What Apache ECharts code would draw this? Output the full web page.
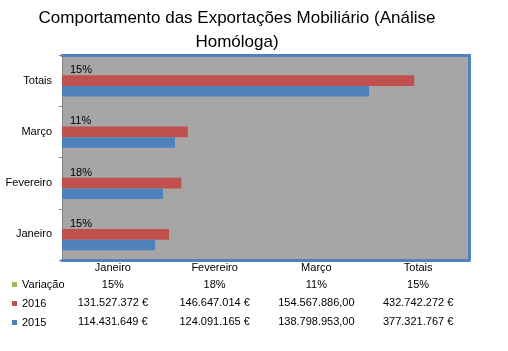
<!DOCTYPE html>
<html lang="pt">
<head>
<meta charset="UTF-8">
<title>Comportamento das Exportações Mobiliário</title>
<script src="https://cdn.jsdelivr.net/npm/echarts@6/dist/echarts.min.js"></script>
<style>
  html, body { margin: 0; padding: 0; background: #fff; }
  #main { width: 508px; height: 351px; }
</style>
</head>
<body>
<div id="main"></div>
<script>
// dados
var categorias = ['Janeiro', 'Fevereiro', 'Março', 'Totais'];
var valores2016 = [131527372, 146647014, 154567886, 432742272];
var valores2015 = [114431649, 124091165, 138798953, 377321767];
var variacao = [0.15, 0.18, 0.11, 0.15];
// formato de cada coluna na tabela de dados (Março vem sem o €)
var formatoColuna = ['eur', 'eur', 'dec', 'eur'];

var fonte = 'Liberation Sans';

function milhares(v) {
    return String(Math.round(v)).replace(/\B(?=(\d{3})+(?!\d))/g, '.');
}
function fmtValor(v, i) {
    if (formatoColuna[i] === 'dec') return milhares(v) + ',00';
    return milhares(v) + ' €';
}
function fmtPct(v) {
    return Math.round(v * 100) + '%';
}

var chart = echarts.init(document.getElementById('main'));

var azulBorda = { color: '#4F81BD', width: 3 };

var option = {
    animation: false,
    backgroundColor: '#fff',
    textStyle: { fontFamily: fonte },
    title: {
        text: 'Comportamento das Exportações Mobiliário (Análise\nHomóloga)',
        left: 237,
        top: 6,
        padding: 0,
        textAlign: 'center',
        textStyle: { fontFamily: fonte, fontSize: 17, fontWeight: 'normal', color: '#000', lineHeight: 24 }
    },
    legend: {
        orient: 'vertical',
        left: 7,
        top: 270,
        itemWidth: 5,
        itemHeight: 5,
        itemGap: 0,
        icon: 'rect',
        data: ['Variação', '2016', '2015'],
        textStyle: { fontFamily: fonte, fontSize: 11, color: '#000', lineHeight: 19 }
    },
    grid: [
        { left: 62, top: 55, width: 407, height: 205, show: true, backgroundColor: '#A6A6A6', borderWidth: 0 },
        { left: 62, top: 255, width: 407, height: 1, show: false }
    ],
    xAxis: [
        {
            type: 'value', gridIndex: 0, min: 0, max: 500000000, position: 'bottom',
            axisLine: { show: true, onZero: false, lineStyle: azulBorda },
            axisTick: { show: false }, axisLabel: { show: false }, splitLine: { show: false }
        },
        {
            type: 'value', gridIndex: 0, min: 0, max: 500000000, position: 'top',
            axisLine: { show: true, onZero: false, lineStyle: azulBorda },
            axisTick: { show: false }, axisLabel: { show: false }, splitLine: { show: false }
        },
        {
            type: 'category', gridIndex: 1, data: categorias, position: 'bottom',
            axisLine: { show: false }, axisTick: { show: false },
            axisLabel: {
                interval: 0,
                margin: 4,
                color: '#000',
                fontFamily: fonte,
                fontSize: 11,
                formatter: function (v, i) {
                    return '{a|' + v + '}\n{b|' + fmtPct(variacao[i]) + '}\n{c|' +
                        fmtValor(valores2016[i], i) + '}\n{d|' + fmtValor(valores2015[i], i) + '}';
                },
                rich: {
                    a: { fontFamily: fonte, fontSize: 11, color: '#000', lineHeight: 16 },
                    b: { fontFamily: fonte, fontSize: 11, color: '#000', lineHeight: 17 },
                    c: { fontFamily: fonte, fontSize: 11, color: '#000', lineHeight: 19 },
                    d: { fontFamily: fonte, fontSize: 11, color: '#000', lineHeight: 20 }
                }
            }
        }
    ],
    yAxis: [
        {
            type: 'category', gridIndex: 0, data: categorias, position: 'left',
            axisLine: { show: true, onZero: false, lineStyle: { color: '#868686', width: 1 } },
            axisTick: { show: true, length: 3, lineStyle: { color: '#868686' } },
            axisLabel: { margin: 10, color: '#000', fontFamily: fonte, fontSize: 11 }
        },
        {
            type: 'category', gridIndex: 0, data: categorias, position: 'right',
            axisLine: { show: true, onZero: false, lineStyle: azulBorda },
            axisTick: { show: false }, axisLabel: { show: false }
        },
        { type: 'value', gridIndex: 1, show: false }
    ],
    series: [
        {
            name: 'Variação', type: 'bar', xAxisIndex: 0, yAxisIndex: 0,
            data: variacao, itemStyle: { color: '#9BBB59' },
            barGap: '0%', barCategoryGap: '38%',
            label: {
                show: true, position: 'right', distance: 8,
                color: '#000', fontFamily: fonte, fontSize: 11,
                formatter: function (p) { return fmtPct(p.value); }
            }
        },
        {
            name: '2016', type: 'bar', xAxisIndex: 0, yAxisIndex: 0,
            data: valores2016, itemStyle: { color: '#C0504D' },
            barGap: '0%', barCategoryGap: '38%'
        },
        {
            name: '2015', type: 'bar', xAxisIndex: 0, yAxisIndex: 0,
            data: valores2015, itemStyle: { color: '#4F81BD' },
            barGap: '0%', barCategoryGap: '38%'
        }
    ]
};

chart.setOption(option);
</script>
</body>
</html>
